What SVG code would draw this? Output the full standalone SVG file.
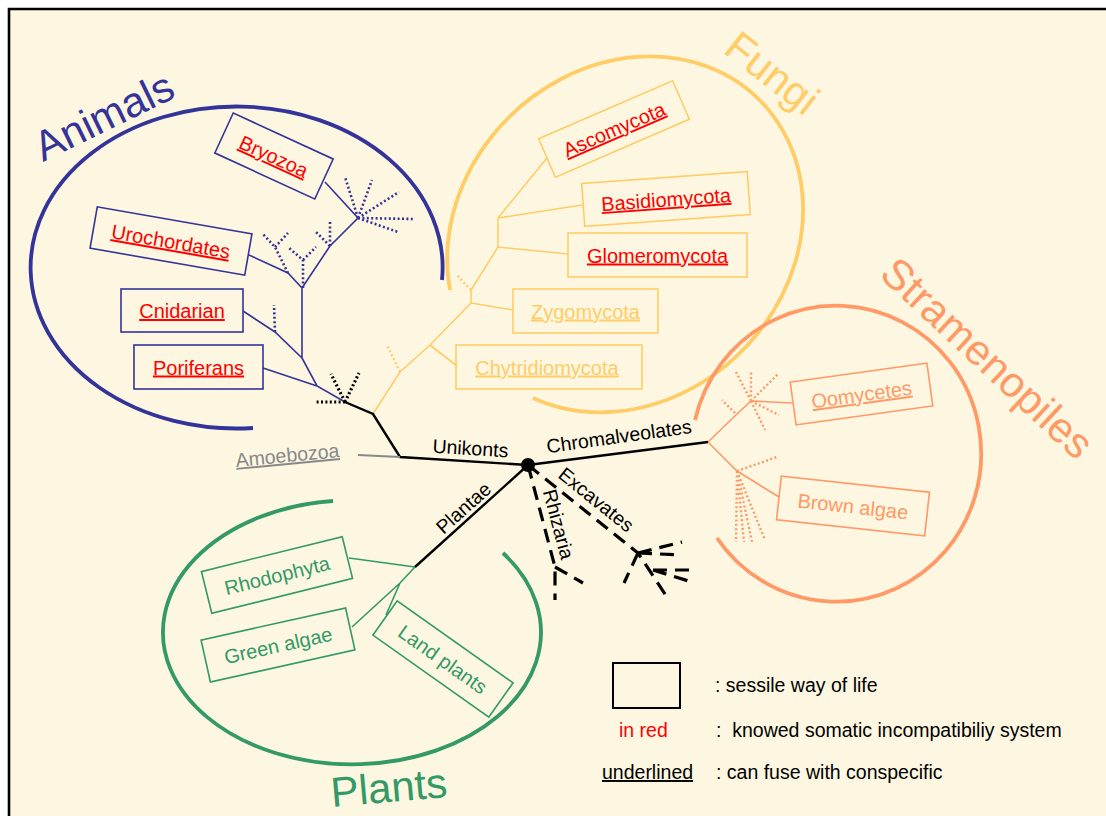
<svg xmlns="http://www.w3.org/2000/svg" width="1106" height="816" viewBox="0 0 1106 816">
<style>
text{font-family:"Liberation Sans",Arial,Helvetica,sans-serif;}
.lbl{font-size:20px;text-anchor:middle;}
.t{font-size:19.5px;}
.title{font-size:42px;}
.u{text-decoration:underline;}
.red{fill:#FF0000;}
.nvL{stroke:#333399;fill:none;stroke-width:1.6;}
.nvD{stroke:#333399;fill:none;stroke-width:2.6;stroke-dasharray:2 2.4;}
.yeL{stroke:#FFCC66;fill:none;stroke-width:1.6;}
.yeD{stroke:#FFCC66;fill:none;stroke-width:2.4;stroke-dasharray:2 2.4;}
.orL{stroke:#FF9966;fill:none;stroke-width:1.6;}
.orD{stroke:#FF9966;fill:none;stroke-width:2.4;stroke-dasharray:2 2.4;}
.grL{stroke:#339966;fill:none;stroke-width:1.6;}
.bkL{stroke:#000;fill:none;stroke-width:2.4;}
.bkD{stroke:#000;fill:none;stroke-width:3.2;stroke-dasharray:2 2.4;}
.bkDash{stroke:#000;fill:none;stroke-width:3.2;stroke-dasharray:14 8;}
.ring{fill:none;stroke-width:3.8;}
</style>
<rect x="0" y="0" width="1106" height="816" fill="#FFFFFF"/>
<rect x="9" y="9" width="1100" height="810" fill="#FDF7E2"/>
<path d="M9,816 L9,9 L1106,9" fill="none" stroke="#000" stroke-width="2.6"/>

<g id="rings">
<path class="ring" stroke="#333399" d="M442,280 A206,161 0 1 0 253,428"/>
<path class="ring" stroke="#FFCC66" d="M450,290 A190,165 -45 1 1 533,398"/>
<path class="ring" stroke="#FF9966" d="M695,420 A145,148 0 1 1 717,538"/>
<path class="ring" stroke="#339966" d="M333,501 A189,132 0 1 0 503,553"/>
</g>

<g id="titles">
<text class="title" fill="#333399" transform="translate(43,162) rotate(-26)">Animals</text>
<text class="title" fill="#FFCC66" transform="translate(722,52) rotate(38)">Fungi</text>
<text class="title" fill="#FF9966" transform="translate(878,276) rotate(43)" style="font-size:42.5px">Stramenopiles</text>
<text class="title" fill="#339966" transform="translate(332,807) rotate(-5)">Plants</text>
</g>

<g id="connectors">
<!-- animals -->
<path class="nvL" d="M345,402 L317,386 L302,358 L302,288 M302,288 L288,273 L249,255 M302,288 L330,246 L358,218 L325,182 M243,311 L275,332 L302,358 M263,368 L317,386"/>
<path class="nvD" d="M275,332 L274,305 M288,273 L275,247 L262,233 M275,247 L288,233 M303,288 L303,260 L289,248 M303,260 L316,247 M330,246 L330,220 M330,246 L316,232 M358,218 L345,177 M358,218 L372,180 M358,218 L399,192 M358,218 L414,219 M358,218 L398,232"/>
<!-- fungi -->
<path class="yeL" d="M373,414 L400,372 L430,345 L471,303 L471,290 L498,247 L498,218 L547,158 M498,218 L582,205 M498,247 L568,254 M471,303 L513,310 M430,345 L457,366"/>
<path class="yeD" d="M400,372 L387,345 M471,290 L457,275"/>
<!-- stramenopiles -->
<path class="orL" d="M708,442 L738,413 L751,401 L792,403 M708,442 L737,471 L779,497"/>
<path class="orD" d="M751,401 L736,372 M751,401 L751,372 M751,401 L779,373 M751,401 L779,415 M751,401 L765,430 M735,413 L722,400 M737,471 L777,457 M737,471 L736,542 M737,471 L744,542 M737,471 L752,542 M737,471 L765,540"/>
<!-- plants -->
<path class="grL" d="M415,567 L349,558 M415,567 L400,583 L352,627 M400,583 L386,615"/>
<!-- main black -->
<path class="bkL" d="M345,402 L373,414 L400,457 L528,465 M528,465 L708,442 M528,465 L415,567"/>
<path d="M358,455 L400,457" stroke="#888888" stroke-width="1.8" fill="none"/>
<path class="bkD" d="M345,402 L316,402 M345,402 L331,374 M345,402 L359,373"/>
<path class="bkDash" d="M528,465 L555,567 L555,600 M555,567 L583,583"/>
<path class="bkDash" d="M528,465 L638,553 L667,597 M638,553 L682,542 M638,553 L682,555 M638,553 L624,583 M653,570 L695,570 M653,570 L695,583"/>
<circle cx="528" cy="465" r="7" fill="#000"/>
</g>

<g id="branch-labels" class="t">
<text class="t" text-anchor="middle" transform="translate(470,455) rotate(3.5)">Unikonts</text>
<text class="t" text-anchor="middle" transform="translate(620,443) rotate(-8)">Chromalveolates</text>
<text class="t" text-anchor="middle" transform="translate(468,513) rotate(-42)">Plantae</text>
<text class="t" text-anchor="middle" transform="translate(552,526) rotate(75)">Rhizaria</text>
<text class="t" text-anchor="middle" transform="translate(592,505) rotate(38.7)">Excavates</text>
<text class="t u" fill="#888888" text-anchor="middle" transform="translate(288,462) rotate(-5.4)">Amoebozoa</text>
</g>

<g id="node-bryozoa" transform="translate(274,156) rotate(24.7)">
<rect x="-55" y="-22" width="110" height="44" class="nvL"/>
<text class="lbl red u" y="7.5">Bryozoa</text></g>
<g id="node-urochordates" transform="translate(171,241) rotate(9.9)">
<rect x="-78.5" y="-21" width="157" height="42" class="nvL"/>
<text class="lbl red u" y="7.5">Urochordates</text></g>
<g id="node-cnidarian">
<rect x="121" y="289" width="122" height="43" class="nvL"/>
<text class="lbl red u" x="182" y="318">Cnidarian</text></g>
<g id="node-poriferans">
<rect x="134" y="345" width="129" height="44" class="nvL"/>
<text class="lbl red u" x="198.5" y="374.5">Poriferans</text></g>

<g id="node-ascomycota" transform="translate(614,129) rotate(-23.4)">
<rect x="-73" y="-21" width="146" height="42" class="yeL"/>
<text class="lbl red u" y="7.5">Ascomycota</text></g>
<g id="node-basidiomycota" transform="translate(666,199) rotate(-4.1)">
<rect x="-83" y="-21.5" width="166" height="43" class="yeL"/>
<text class="lbl red u" y="7.5">Basidiomycota</text></g>
<g id="node-glomeromycota">
<rect x="568" y="233" width="179" height="44" class="yeL"/>
<text class="lbl red u" x="657.5" y="262.5">Glomeromycota</text></g>
<g id="node-zygomycota">
<rect x="513" y="289" width="145" height="44" class="yeL"/>
<text class="lbl u" fill="#FFCC66" x="585.5" y="318.5">Zygomycota</text></g>
<g id="node-chytridiomycota">
<rect x="456" y="345" width="186" height="44" class="yeL"/>
<text class="lbl u" fill="#FFCC66" x="547" y="374.5">Chytridiomycota</text></g>

<g id="node-oomycetes" transform="translate(861.5,394) rotate(-7.9)">
<rect x="-69" y="-21.5" width="138" height="43" class="orL"/>
<text class="lbl u" fill="#FF9966" y="7.5">Oomycetes</text></g>
<g id="node-brownalgae" transform="translate(853,506) rotate(6.2)">
<rect x="-74.5" y="-22" width="149" height="44" class="orL"/>
<text class="lbl" fill="#FF9966" y="7.5">Brown algae</text></g>

<g id="node-rhodophyta" transform="translate(277,575) rotate(-13.9)">
<rect x="-72.5" y="-21.5" width="145" height="43" class="grL"/>
<text class="lbl" fill="#339966" y="7.5">Rhodophyta</text></g>
<g id="node-greenalgae" transform="translate(278,645) rotate(-12.5)">
<rect x="-74" y="-21.5" width="148" height="43" class="grL"/>
<text class="lbl" fill="#339966" y="7.5">Green algae</text></g>
<g id="node-landplants" transform="translate(443,659) rotate(35.3)">
<rect x="-71" y="-21" width="142" height="42" class="grL"/>
<text class="lbl" fill="#339966" y="7.5">Land plants</text></g>

<g id="legend">
<rect x="613" y="663" width="67" height="45" fill="none" stroke="#000" stroke-width="2"/>
<text class="t" x="715" y="692">: sessile way of life</text>
<text class="t red" x="619" y="737">in red</text>
<text class="t" x="716" y="737" xml:space="preserve">:  knowed somatic incompatibiliy system</text>
<text class="t u" x="602" y="779">underlined</text>
<text class="t" x="716" y="779">: can fuse with conspecific</text>
</g>
</svg>
